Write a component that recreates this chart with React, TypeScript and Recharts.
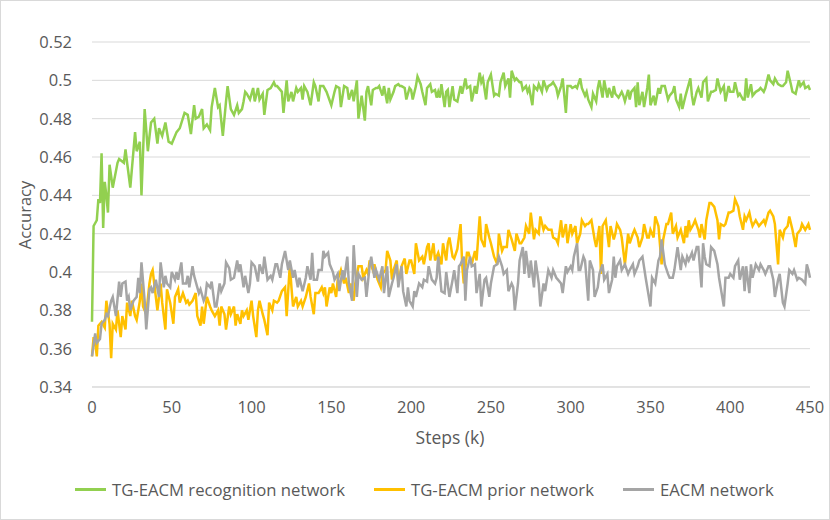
import { LineChart, Line, XAxis, YAxis, CartesianGrid } from 'recharts'

// [step (k), accuracy]
const recognition: [number, number][] = [
  [0,.374],[1,.424],[3,.427],[4,.438],[5,.436],[6,.462],[7,.423],[8,.447],[9,.44],[10,.431],[11,.456],[13,.444],[16,.457],[17,.459],[20,.457],[21,.464],[22,.457],[24,.444],[27,.473],[28,.463],[30,.468],[31,.44],[33,.485],[35,.463],[37,.478],[39,.48],[41,.467],[42,.475],[44,.471],[46,.478],[48,.468],[50,.467],[53,.473],[55,.475],[58,.483],[60,.482],[62,.472],[64,.487],[65,.48],[67,.481],[69,.485],[70,.475],[72,.477],[74,.474],[75,.486],[77,.496],[79,.486],[80,.487],[82,.471],[84,.489],[85,.497],[87,.485],[89,.482],[91,.487],[92,.483],[94,.485],[95,.489],[96,.494],[97,.493],[99,.49],
  [101,.496],[102,.489],[104,.496],[105,.49],[107,.493],[108,.482],[110,.495],[112,.496],[114,.499],[115,.497],[116,.497],[118,.495],[119,.494],[120,.483],[122,.5],[123,.489],[125,.494],[126,.489],[128,.496],[129,.494],[131,.496],[132,.49],[133,.497],[135,.494],[137,.487],[139,.499],[140,.497],[142,.489],[143,.497],[145,.497],[147,.494],[150,.487],[152,.494],[153,.497],[155,.496],[156,.486],[158,.497],[160,.496],[161,.49],[163,.495],[164,.489],[166,.5],[167,.48],[169,.492],[171,.479],[172,.494],[173,.497],[175,.487],[176,.495],[178,.496],[179,.496],[180,.497],[182,.492],[183,.497],[185,.488],[186,.496],[187,.49],[189,.494],[190,.497],[192,.498],[193,.497],[194,.497],[196,.496],[197,.49],[199,.496],[200,.495],
  [201,.49],[203,.497],[204,.502],[206,.498],[207,.494],[209,.487],[210,.496],[212,.498],[213,.494],[215,.495],[216,.491],[217,.494],[218,.491],[219,.498],[221,.486],[222,.494],[223,.495],[224,.486],[226,.497],[227,.49],[229,.489],[231,.497],[232,.493],[234,.501],[235,.496],[237,.497],[238,.489],[240,.497],[241,.493],[243,.504],[244,.499],[245,.501],[247,.49],[248,.499],[250,.503],[252,.492],[253,.493],[255,.492],[256,.499],[258,.504],[259,.497],[261,.501],[262,.491],[263,.505],[265,.5],[266,.501],[268,.499],[269,.499],[270,.495],[272,.497],[273,.494],[274,.496],[276,.487],[277,.497],[279,.495],[280,.498],[282,.494],[283,.5],[285,.495],[286,.497],[288,.498],[289,.499],[291,.496],[292,.492],[294,.497],[295,.501],[297,.483],[298,.497],[300,.497],
  [301,.496],[303,.497],[304,.496],[306,.501],[307,.496],[309,.492],[310,.494],[311,.49],[313,.486],[314,.493],[316,.489],[317,.496],[318,.5],[320,.491],[321,.5],[323,.491],[324,.496],[326,.491],[327,.497],[328,.493],[330,.491],[332,.494],[333,.492],[334,.489],[336,.495],[337,.49],[338,.494],[340,.496],[341,.486],[342,.499],[343,.487],[345,.494],[346,.486],[348,.496],[349,.503],[350,.487],[352,.492],[353,.487],[355,.496],[356,.493],[357,.497],[359,.497],[361,.49],[362,.492],[364,.494],[365,.497],[366,.49],[368,.486],[369,.493],[370,.485],[372,.492],[373,.495],[375,.501],[376,.492],[377,.487],[379,.494],[380,.496],[382,.491],[383,.499],[385,.501],[386,.489],[388,.494],[389,.494],[391,.495],[392,.501],[394,.494],[396,.497],[397,.489],[399,.497],[400,.494],
  [402,.494],[403,.499],[405,.492],[406,.493],[408,.49],[409,.49],[410,.501],[411,.491],[413,.498],[414,.492],[416,.494],[418,.495],[419,.496],[421,.494],[422,.496],[424,.503],[425,.5],[427,.498],[428,.501],[430,.498],[432,.497],[433,.497],[435,.499],[436,.505],[438,.498],[439,.494],[441,.493],[443,.5],[444,.497],[446,.499],[447,.496],[449,.497],[450,.495],
]

const prior: [number, number][] = [
  [0,.356],[1,.366],[2,.363],[3,.356],[4,.372],[6,.374],[8,.371],[9,.385],[11,.373],[12,.355],[13,.373],[15,.37],[16,.38],[18,.366],[19,.377],[21,.37],[22,.384],[24,.377],[25,.385],[27,.377],[28,.375],[30,.385],[31,.394],[32,.382],[34,.378],[36,.394],[37,.399],[38,.401],[40,.387],[41,.38],[43,.394],[44,.384],[46,.37],[47,.391],[49,.384],[51,.373],[52,.387],[54,.391],[55,.384],[57,.389],[59,.384],[60,.385],[61,.383],[63,.385],[65,.389],[66,.377],[68,.372],[69,.382],[70,.373],[72,.387],[74,.382],[75,.38],[77,.377],[79,.38],[80,.372],[81,.382],[83,.378],[84,.37],[86,.382],[87,.378],[89,.382],[90,.372],[91,.378],[93,.373],[94,.38],[95,.377],[97,.38],[98,.375],[100,.385],
  [101,.377],[103,.366],[104,.38],[105,.385],[107,.378],[108,.375],[110,.367],[111,.384],[113,.38],[114,.385],[116,.384],[117,.385],[119,.39],[121,.392],[122,.377],[124,.404],[125,.392],[126,.382],[128,.387],[129,.382],[131,.385],[132,.382],[134,.387],[136,.394],[137,.387],[139,.378],[140,.389],[142,.389],[144,.392],[145,.389],[146,.392],[147,.382],[149,.392],[150,.389],[151,.394],[153,.387],[154,.396],[156,.401],[158,.394],[159,.397],[161,.389],[162,.394],[164,.385],[165,.394],[167,.403],[169,.403],[170,.397],[172,.401],[173,.399],[174,.406],[176,.401],[177,.404],[179,.396],[181,.392],[182,.399],[184,.401],[185,.411],[187,.406],[188,.396],[189,.401],[191,.406],[192,.394],[194,.403],[196,.407],[197,.399],[199,.406],[200,.406],
  [202,.399],[203,.415],[205,.406],[207,.408],[208,.404],[210,.413],[211,.415],[212,.406],[214,.415],[215,.406],[217,.41],[219,.404],[220,.415],[222,.406],[223,.415],[224,.418],[226,.408],[227,.407],[229,.412],[231,.425],[232,.404],[233,.394],[235,.41],[236,.41],[238,.404],[240,.411],[241,.406],[243,.429],[244,.417],[246,.413],[247,.425],[249,.418],[250,.415],[252,.408],[254,.404],[255,.42],[257,.411],[258,.413],[260,.413],[261,.422],[263,.417],[265,.411],[266,.42],[268,.415],[269,.415],[271,.418],[272,.424],[274,.42],[275,.431],[277,.417],[278,.422],[280,.42],[281,.429],[283,.422],[284,.424],[286,.422],[288,.422],[289,.418],[291,.417],[292,.415],[294,.427],[295,.418],[297,.425],[298,.415],[300,.425],
  [301,.42],[303,.424],[304,.415],[306,.42],[307,.427],[309,.424],[310,.425],[311,.425],[313,.427],[315,.417],[316,.413],[318,.424],[319,.399],[320,.424],[322,.427],[324,.413],[325,.424],[327,.417],[328,.42],[329,.425],[331,.422],[332,.418],[334,.404],[336,.42],[337,.415],[339,.42],[340,.422],[342,.418],[343,.413],[345,.418],[346,.425],[348,.418],[349,.418],[350,.422],[352,.418],[353,.429],[355,.424],[357,.404],[358,.417],[360,.425],[361,.425],[363,.431],[364,.42],[366,.424],[367,.418],[369,.422],[371,.415],[372,.424],[373,.418],[374,.427],[375,.422],[377,.425],[378,.427],[380,.422],[381,.418],[382,.425],[384,.417],[385,.427],[387,.436],[388,.436],[390,.434],[392,.427],[393,.417],[394,.425],[396,.424],[397,.425],[399,.431],[400,.431],
  [402,.432],[403,.438],[405,.434],[406,.429],[408,.422],[409,.429],[410,.427],[412,.431],[413,.427],[414,.424],[416,.427],[418,.424],[419,.425],[421,.427],[422,.425],[424,.431],[425,.432],[427,.429],[428,.425],[430,.404],[431,.422],[433,.418],[434,.422],[436,.424],[437,.429],[439,.422],[441,.413],[442,.42],[444,.422],[445,.425],[447,.422],[449,.425],[450,.422],
]

const eacm: [number, number][] = [
  [0,.356],[2,.368],[3,.363],[5,.365],[6,.373],[8,.375],[9,.378],[10,.377],[12,.385],[13,.387],[15,.377],[17,.395],[18,.387],[19,.394],[21,.395],[22,.385],[23,.387],[24,.38],[26,.385],[28,.387],[29,.397],[30,.389],[31,.405],[33,.385],[34,.37],[36,.391],[37,.392],[38,.389],[40,.396],[42,.387],[43,.405],[45,.392],[46,.398],[47,.394],[49,.392],[50,.4],[52,.396],[53,.4],[54,.396],[56,.405],[57,.394],[59,.394],[60,.398],[61,.392],[63,.403],[64,.398],[66,.392],[67,.389],[68,.391],[70,.385],[71,.387],[72,.394],[74,.392],[75,.395],[77,.382],[78,.382],[80,.394],[81,.39],[83,.394],[84,.405],[86,.402],[87,.396],[89,.397],[91,.406],[92,.4],[93,.404],[95,.392],[96,.398],[98,.389],[99,.394],[100,.405],
  [102,.403],[104,.395],[105,.404],[107,.399],[108,.408],[110,.396],[112,.398],[113,.396],[115,.404],[116,.404],[118,.397],[119,.404],[121,.411],[123,.401],[124,.406],[126,.397],[127,.401],[129,.392],[130,.397],[132,.39],[134,.397],[135,.403],[137,.396],[138,.41],[139,.396],[141,.396],[142,.401],[144,.401],[145,.411],[146,.408],[148,.41],[149,.404],[151,.4],[152,.396],[154,.399],[155,.39],[157,.401],[158,.396],[160,.408],[161,.394],[163,.385],[164,.414],[166,.387],[167,.399],[169,.396],[171,.397],[172,.387],[174,.403],[175,.408],[177,.397],[178,.401],[180,.396],[182,.403],[183,.389],[185,.403],[186,.387],[188,.394],[189,.397],[191,.404],[192,.392],[194,.403],[195,.39],[197,.382],[198,.392],[199,.385],
  [201,.382],[202,.39],[203,.387],[205,.394],[207,.392],[208,.396],[210,.395],[211,.403],[213,.396],[215,.394],[216,.397],[217,.408],[219,.39],[221,.389],[222,.4],[224,.387],[226,.396],[227,.401],[229,.389],[230,.403],[231,.404],[233,.408],[234,.385],[235,.401],[237,.408],[238,.403],[240,.404],[241,.389],[243,.399],[244,.382],[246,.396],[247,.397],[249,.387],[250,.394],[252,.403],[254,.404],[255,.408],[257,.403],[258,.399],[260,.401],[261,.39],[263,.394],[264,.392],[265,.38],[267,.394],[268,.406],[270,.413],[271,.399],[272,.411],[274,.397],[275,.406],[277,.392],[278,.406],[280,.394],[281,.382],[283,.394],[284,.39],[286,.401],[288,.397],[289,.401],[291,.397],[292,.396],[294,.394],[295,.389],[297,.403],[298,.4],[300,.403],
  [301,.401],[302,.408],[304,.415],[305,.401],[306,.401],[308,.408],[309,.406],[311,.385],[312,.406],[314,.401],[315,.387],[317,.392],[318,.399],[320,.404],[321,.396],[323,.399],[324,.389],[326,.396],[327,.408],[328,.397],[329,.403],[331,.406],[332,.401],[334,.404],[336,.399],[337,.401],[339,.404],[340,.399],[342,.403],[343,.406],[345,.408],[347,.397],[348,.392],[350,.382],[351,.397],[353,.394],[355,.406],[356,.408],[357,.417],[359,.404],[361,.399],[362,.397],[364,.397],[365,.401],[367,.413],[369,.401],[370,.408],[372,.404],[373,.408],[374,.406],[376,.41],[377,.406],[379,.413],[380,.413],[382,.392],[383,.415],[384,.408],[385,.404],[387,.403],[388,.413],[390,.411],[392,.404],[393,.397],[394,.392],[396,.382],[397,.397],[399,.397],[400,.399],
  [402,.397],[403,.403],[405,.406],[406,.396],[408,.403],[409,.39],[410,.403],[412,.389],[413,.404],[414,.397],[416,.404],[418,.401],[419,.404],[421,.401],[422,.399],[424,.403],[425,.403],[427,.396],[428,.387],[430,.396],[431,.399],[433,.384],[434,.382],[436,.394],[437,.401],[439,.399],[440,.401],[442,.396],[443,.397],[445,.396],[447,.394],[448,.404],[449,.401],[450,.397],
]

const xTicks = [0, 50, 100, 150, 200, 250, 300, 350, 400, 450]
const yTicks = [0.34, 0.36, 0.38, 0.4, 0.42, 0.44, 0.46, 0.48, 0.5, 0.52]

const series = [
  { name: 'TG-EACM recognition network', points: recognition, color: '#92d050' },
  { name: 'TG-EACM prior network', points: prior, color: '#ffc000' },
  { name: 'EACM network', points: eacm, color: '#a5a5a5' },
]

const font = '"Open Sans", sans-serif'
const textColor = '#595959'

const toRows = (pts: [number, number][]) => pts.map(([step, acc]) => ({ step, acc }))

export default function App() {
  return (
    <div style={{ position: 'absolute', left: 0, top: 0, width: 830, height: 520, boxSizing: 'border-box', border: '1px solid #d9d9d9', background: '#fff', fontFamily: font }}>
      <div style={{ position: 'absolute', left: -1, top: -1 }}>
        <LineChart width={830} height={520} margin={{ top: 42, right: 20, bottom: 73, left: 0 }}>
          <CartesianGrid vertical={false} stroke="#d9d9d9" strokeWidth={1} />
          <XAxis
            type="number"
            dataKey="step"
            domain={[0, 450]}
            ticks={xTicks}
            tickLine={false}
            axisLine={{ stroke: '#d9d9d9' }}
            tick={{ fill: textColor, fontSize: 16.5, fontFamily: font }}
            tickMargin={8}
            height={60}
            allowDuplicatedCategory={false}
            label={() => (
              <text x={450} y={444} textAnchor="middle" fill={textColor} fontSize={17.5} fontFamily={font}>Steps (k)</text>
            )}
          />
          <YAxis
            type="number"
            domain={[0.34, 0.52]}
            ticks={yTicks}
            width={92}
            tickLine={false}
            axisLine={false}
            tick={{ fill: textColor, fontSize: 16.5, fontFamily: font }}
            tickMargin={14}
            tickFormatter={(v: number) => String(Number(v.toFixed(2)))}
            label={() => (
              <text x={24} y={215} transform="rotate(-90 24 215)" textAnchor="middle" dominantBaseline="central" fill={textColor} fontSize={16.5} fontFamily={font}>Accuracy</text>
            )}
          />
          {series.map((s) => (
            <Line
              key={s.name}
              data={toRows(s.points)}
              dataKey="acc"
              type="linear"
              stroke={s.color}
              strokeWidth={2.5}
              dot={false}
              activeDot={false}
              isAnimationActive={false}
            />
          ))}
        </LineChart>
      </div>
      <div style={{ position: 'absolute', left: 74, top: 477, display: 'flex', alignItems: 'center', gap: 29, fontSize: 16.7, color: textColor, whiteSpace: 'nowrap' }}>
        {series.map((s) => (
          <div key={s.name} style={{ display: 'flex', alignItems: 'center' }}>
            <span style={{ display: 'inline-block', width: 31, height: 2.5, background: s.color, marginRight: 6 }} />
            <span>{s.name}</span>
          </div>
        ))}
      </div>
    </div>
  )
}
